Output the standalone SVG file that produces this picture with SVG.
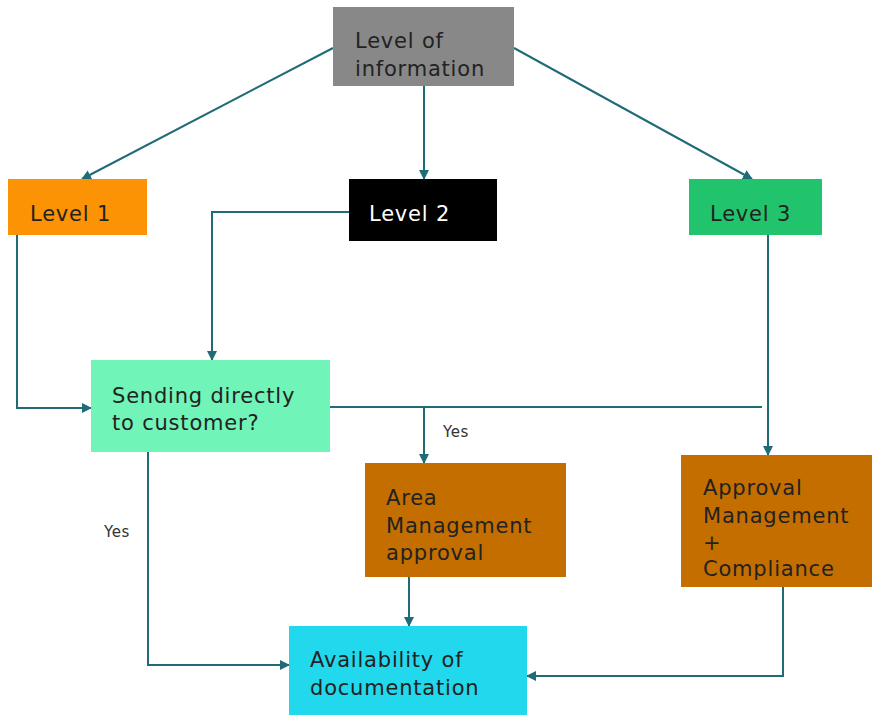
<svg xmlns="http://www.w3.org/2000/svg" width="872" height="715" viewBox="0 0 872 715">
<style>
text{font-family:"DejaVu Sans","Liberation Sans",sans-serif;font-size:21px;letter-spacing:0.8px;fill:#222}
.lbl{font-size:15px;letter-spacing:0.6px;fill:#333}
.c{fill:none;stroke:#1F6C78;stroke-width:2}
</style>
<defs>
<marker id="ah" markerWidth="10" markerHeight="10" refX="9" refY="5" orient="auto" markerUnits="userSpaceOnUse">
<path d="M0,0 L10,5 L0,10 z" fill="#1F6C78"/>
</marker>
</defs>
<rect width="872" height="715" fill="#fff"/>
<g id="connectors">
<path class="c" d="M333,48 L82,179" marker-end="url(#ah)"/>
<path class="c" d="M424,86 L424,179" marker-end="url(#ah)"/>
<path class="c" d="M514,48 L752,179" marker-end="url(#ah)"/>
<path class="c" d="M349,212 L212,212 L212,360" marker-end="url(#ah)"/>
<path class="c" d="M17,235 L17,408 L91,408" marker-end="url(#ah)"/>
<path class="c" d="M768,235 L768,455" marker-end="url(#ah)"/>
<path class="c" d="M330,407 L762,407"/>
<path class="c" d="M424,407 L424,463" marker-end="url(#ah)"/>
<path class="c" d="M148,452 L148,665 L289,665" marker-end="url(#ah)"/>
<path class="c" d="M409,577 L409,626" marker-end="url(#ah)"/>
<path class="c" d="M783,587 L783,676 L527,676" marker-end="url(#ah)"/>
<text class="lbl" x="443" y="437">Yes</text>
<text class="lbl" x="104" y="537">Yes</text>
</g>
<g id="n-info"><rect x="333" y="7" width="181" height="79" fill="#888888"/><text x="355" y="48">Level of</text><text x="355" y="76">information</text></g>
<g id="n-l1"><rect x="8" y="179" width="139" height="56" fill="#FB9304"/><text x="30" y="221">Level 1</text></g>
<g id="n-l2"><rect x="349" y="179" width="148" height="62" fill="#000"/><text x="369" y="221" style="fill:#fff">Level 2</text></g>
<g id="n-l3"><rect x="689" y="179" width="133" height="56" fill="#22C36D"/><text x="710" y="221">Level 3</text></g>
<g id="n-send"><rect x="91" y="360" width="239" height="92" fill="#70F4B8"/><text x="112" y="403">Sending directly</text><text x="112" y="430">to customer?</text></g>
<g id="n-area"><rect x="365" y="463" width="201" height="114" fill="#C46E00"/><text x="386" y="505">Area</text><text x="386" y="533">Management</text><text x="386" y="560">approval</text></g>
<g id="n-appr"><rect x="681" y="455" width="191" height="132" fill="#C46E00"/><text x="703" y="495">Approval</text><text x="703" y="523">Management</text><text x="703" y="550">+</text><text x="703" y="576">Compliance</text></g>
<g id="n-avail"><rect x="289" y="626" width="238" height="89" fill="#22D8EC"/><text x="310" y="667">Availability of</text><text x="310" y="695">documentation</text></g>
</svg>
